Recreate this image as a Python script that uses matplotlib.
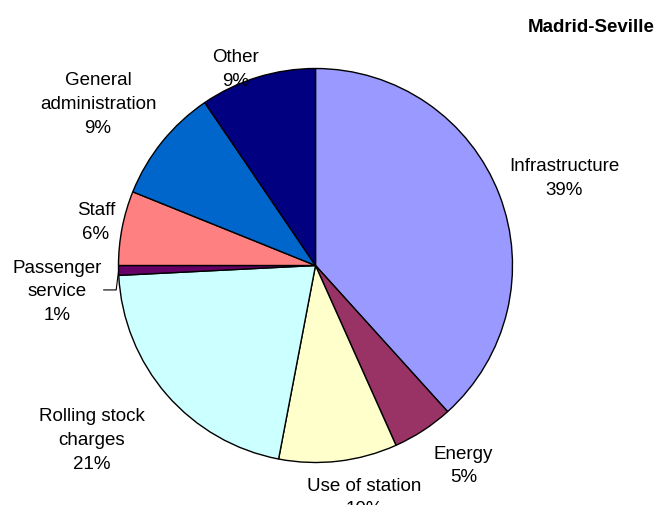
import numpy as np
import matplotlib
matplotlib.use('Agg')
from matplotlib import pyplot as plt

plt.rcParams.update({'font.family': ['Liberation Sans', 'DejaVu Sans']})

# cost shares, clockwise from 12 o'clock
categories = ['Infrastructure', 'Energy', 'Use of station', 'Rolling stock charges',
              'Passenger service', 'Staff', 'General administration', 'Other']
shares = [38.3, 5.0, 9.7, 21.2, 0.8, 6.1, 9.4, 9.5]
label_texts = ['Infrastructure\n39%', 'Energy\n5%', 'Use of station\n10%',
               'Rolling stock\ncharges\n21%', 'Passenger\nservice\n1%', 'Staff\n6%',
               'General\nadministration\n9%', 'Other\n9%']
colors = ['#9999FF', '#993366', '#FFFFCC', '#CCFFFF',
          '#660066', '#FF8080', '#0066CC', '#000080']

# label block centres, in units of the pie radius
label_pos = [(1.261, 0.447), (0.751, -1.013), (0.249, -1.175), (-1.137, -0.883),
             (-1.310, -0.129), (-1.114, 0.223), (-1.104, 0.822), (-0.404, 1.0)]

W, H = 657, 506
cx, cy, r = 315.5, 266.5, 197.0

fig = plt.figure(figsize=(W / 100, H / 100), dpi=100)
fig.patch.set_facecolor('white')
ax = fig.add_axes([0, 0, 1, 1])

wedges, _ = ax.pie(shares, colors=colors, startangle=90, counterclock=False,
                   radius=1.0, wedgeprops={'edgecolor': 'black', 'linewidth': 1.0})

ax.set_xlim(-cx / r, (W - cx) / r)
ax.set_ylim(-(H - cy) / r, cy / r)
ax.set_aspect('auto')
ax.axis('off')

for txt, (lx, ly) in zip(label_texts, label_pos):
    ax.text(lx, ly, txt, ha='center', va='center', fontsize=13.5,
            linespacing=1.52, clip_on=False)

# leader line for the small passenger service slice
w = wedges[4]
mid = np.deg2rad((w.theta1 + w.theta2) / 2)
ex, ey = np.cos(mid), np.sin(mid)
px = label_pos[4][0] + 0.235
py = label_pos[4][1] + 0.005
ax.plot([px, ex - 0.012, ex], [py, py, ey], color='black', lw=0.8)

fig.text(655 / W, 1 - 28 / H, 'Madrid-Seville', ha='right', va='center',
         fontsize=13.5, fontweight='bold')

plt.savefig('out.png', dpi=100)
